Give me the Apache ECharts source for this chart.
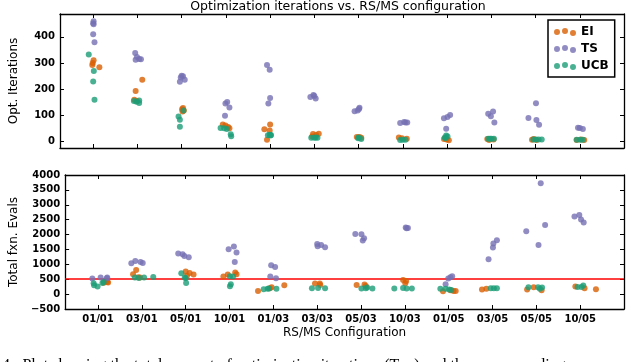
<!DOCTYPE html>
<html><head><meta charset="utf-8">
<script src="https://cdn.jsdelivr.net/npm/echarts@6/dist/echarts.min.js"></script>
<style>html,body{margin:0;padding:0;background:#fff}#c{width:640px;height:362px}</style>
</head><body><div id="c"></div>
<script>
const configs = ['01/01','03/01','05/01','10/01','01/03','03/03','05/03','10/03','01/05','03/05','05/05','10/05'];
const algos = ['EI','TS','UCB'];
const iterTicks = [0,100,200,300,400];
const evalTicks = [-500,0,500,1000,1500,2000,2500,3000,3500,4000];

// Optimization iterations (top panel)
const iterEI = [[310,300,292,283],[235,192,158,154],[127,122,117,113],[63,59,54,49],[63,45,40,5],[28,27,23,17],[15,15,12],[13,10,9],[6,3,8],[4,8,6],[5,8,4],[4,4,6]];
const iterEIJit = [[0.01,-0.01,-0.02,0.14],[0.11,-0.04,-0.07,-0.01],[0.03,0.01,0.05,0.02],[-0.07,-0.01,0.05,0.08],[0.0,-0.13,-0.01,-0.07],[0.10,-0.03,0.04,-0.05],[-0.04,0.02,0.06],[-0.09,-0.02,0.09],[-0.01,0.04,-0.07],[-0.05,-0.09,0.05],[-0.08,-0.04,0.02],[-0.07,0.10,0.03]];
const iterTS = [[460,452,449,410,379],[338,323,315,314,312],[251,249,244,235,228],[150,144,129,97],[292,274,165,144],[177,173,169,163],[128,123,117,114],[73,71,71,69],[100,92,87,47],[113,105,95,71],[145,88,81,62],[51,50,46]];
const iterTSJit = [[0.01,0.0,0.01,0.0,0.03],[-0.05,-0.01,0.04,0.08,-0.04],[0.0,0.03,-0.02,0.07,-0.04],[0.03,-0.01,0.08,-0.02],[-0.07,-0.01,0.0,-0.04],[-0.02,0.0,-0.09,0.03],[0.02,0.01,-0.02,-0.09],[0.03,0.06,0.10,-0.06],[0.07,0.01,-0.07,-0.02],[0.04,-0.07,-0.01,0.07],[0.01,-0.16,0.02,0.08],[-0.04,0.0,0.07]];
const iterUCB = [[332,269,229,158],[156,154,151,146],[117,94,82,55],[50,49,46,26,18],[24,23,22,21],[13,12,12,12],[13,10,8],[5,5,4],[21,17,13,10],[9,9,9,9],[6,6,6,6],[5,5,5]];
const iterUCBJit = [[-0.10,0.015,0.0,0.03],[0.04,-0.08,-0.02,0.04],[0.04,-0.07,-0.04,-0.04],[-0.12,-0.04,0.02,0.11,0.12],[-0.01,0.02,-0.05,0.01],[0.03,-0.07,0.0,0.07],[0.0,-0.01,0.06],[0.0,0.06,-0.06],[-0.02,0.01,-0.05,-0.04],[-0.07,-0.03,0.0,0.06],[-0.05,0.01,0.07,0.14],[-0.07,0.01,0.07]];

// Total function evaluations (bottom panel)
const evalEI = [[444,410,388,380],[813,668,567,556],[757,713,657,620],[724,668,657,590],[299,232,198,108],[355,355,310],[321,310,276],[478,444,366],[130,108,108,97],[176,153],[232,153,130],[254,198,164]];
const evalEIJit = [[0.19,0.21,0.23,0.13],[-0.13,-0.20,-0.08,-0.04],[0.0,0.09,0.18,0.03],[0.13,0.16,-0.04,-0.14],[0.25,-0.04,-0.08,-0.35],[-0.05,0.06,0.07],[0.08,-0.10,0.11],[-0.04,0.03,0.01],[0.04,0.11,0.16,-0.13],[-0.14,-0.24],[-0.06,-0.21,0.12],[-0.11,0.10,0.36]];
const evalTS = [[556,556,530,522],[1115,1082,1048,1037],[1362,1339,1283,1239],[1597,1507,1395,1082],[970,914,590,534],[1686,1652,1608,1574],[2022,2011,1876,1798],[2234,2223,2212],[600,567,522,332],[1809,1697,1563,1171],[3722,2324,2112,1653],[2660,2604,2503,2403]];
const evalTSJit = [[0.06,0.21,0.20,-0.13],[-0.15,-0.03,0.02,-0.24],[-0.17,-0.07,-0.03,0.07],[0.10,-0.02,0.16,0.12],[-0.05,0.04,-0.07,0.06],[0.0,0.09,0.01,0.18],[-0.13,0.01,0.07,0.04],[0.02,0.07,0.04],[0.08,0.04,-0.01,-0.07],[0.10,0.02,0.01,-0.09],[0.10,0.20,-0.23,0.05],[-0.02,-0.13,0.02,0.08]];
const evalUCB = [[410,377,366,300,254],[578,556,556,545],[701,556,534,377],[600,590,332,265],[187,176,176,164],[209,198,198],[220,187,187,200],[209,187,187,187],[176,176,154,142],[198,198,198],[232,232,220,176],[288,243,243]];
const evalUCBJit = [[0.13,0.10,-0.10,-0.09,-0.01],[0.26,-0.16,0.05,-0.07],[-0.10,-0.02,0.0,0.01],[0.01,0.08,0.03,0.01],[-0.10,-0.13,0.07,-0.22],[0.02,-0.12,0.18],[0.14,0.01,0.26,0.11],[-0.04,-0.24,0.04,0.16],[-0.19,-0.07,0.01,0.06],[-0.04,0.03,0.10],[-0.18,0.04,0.13,0.08],[0.07,-0.06,0.03]];
const evalBudget = 500;

const colors = {EI:'#d95f02', TS:'#7570b3', UCB:'#1b9e77'};
const FONT = 'DejaVu Sans';

function pts(vals, jit){
  const out = [];
  vals.forEach((arr,i)=>arr.forEach((v,k)=>out.push([i+jit[i][k], v])));
  return out;
}
const idx = configs.map((c,i)=>i);
const axLine = {show:true, onZero:false, lineStyle:{color:'#000', width:1.3}};
function xAx(grid, pos, labels, extra){
  return Object.assign({type:'value', gridIndex:grid, position:pos, min:-0.75, max:12,
    axisLine:axLine, splitLine:{show:false},
    axisTick:{show:true, inside:true, length:4, customValues:idx, lineStyle:{color:'#000'}},
    axisLabel:{show:labels, customValues:idx, formatter:v=>configs[Math.round(v)]||'', color:'#000', fontFamily:FONT, fontSize:10, fontWeight:'bold', margin:5}
  }, extra||{});
}
function yAx(grid, pos, labels, rng, extra){
  return Object.assign({type:'value', gridIndex:grid, position:pos, min:rng[0], max:rng[1],
    axisLine:axLine, splitLine:{show:false},
    axisTick:{show:true, inside:true, length:4, customValues:rng[2], lineStyle:{color:'#000'}},
    axisLabel:{show:labels, customValues:rng[2], formatter:v=>String(v).replace('-','\u2212'), color:'#000', fontFamily:FONT, fontSize:10, fontWeight:'bold', margin:5}
  }, extra||{});
}
const nameStyle = {color:'#000', fontFamily:FONT, fontSize:12};

const sets = [
  ['EI', iterEI, iterEIJit, evalEI, evalEIJit],
  ['TS', iterTS, iterTSJit, evalTS, evalTSJit],
  ['UCB', iterUCB, iterUCBJit, evalUCB, evalUCBJit]
];
const series = [];
sets.forEach(([name, iv, ij])=>{
  const st = {color:colors[name], opacity:0.8};
  series.push({name, type:'scatter', xAxisIndex:0, yAxisIndex:0, symbolSize:6, itemStyle:st, data:pts(iv, ij)});
});
sets.forEach(([name, iv, ij, ev, ej])=>{
  const st = {color:colors[name], opacity:0.8};
  const s = {name, type:'scatter', xAxisIndex:2, yAxisIndex:2, symbolSize:6, itemStyle:st, data:pts(ev, ej)};
  if (name==='EI') s.markLine = {silent:true, symbol:['none','none'], label:{show:false},
    lineStyle:{color:'#ff0000', width:1.5, type:'solid'}, data:[{yAxis:evalBudget}], z:1};
  series.push(s);
});

const icon = 'path://M0,4a3,3 0 1,0 6,0a3,3 0 1,0 -6,0M8,3a3,3 0 1,0 6,0a3,3 0 1,0 -6,0M16,5a3,3 0 1,0 6,0a3,3 0 1,0 -6,0';

const chart = echarts.init(document.getElementById('c'), null, {renderer:'canvas'});
chart.setOption({
  animation:false,
  backgroundColor:'#fff',
  grid:[
    {left:52, top:14, width:572, height:134},
    {left:52, top:175, width:572, height:134}
  ],
  xAxis:[
    xAx(0,'bottom',false), xAx(0,'top',false),
    xAx(1,'bottom',true,{name:'RS/MS Configuration', nameLocation:'middle', nameGap:18, nameTextStyle:nameStyle}),
    xAx(1,'top',false)
  ],
  yAxis:[
    yAx(0,'left',true,[-27,488,iterTicks],{name:'Opt. Iterations', nameLocation:'middle', nameGap:40, nameTextStyle:nameStyle}),
    yAx(0,'right',false,[-27,488,iterTicks]),
    yAx(1,'left',true,[-500,4000,evalTicks],{name:'Total fxn. Evals', nameLocation:'middle', nameGap:43, nameTextStyle:nameStyle}),
    yAx(1,'right',false,[-500,4000,evalTicks])
  ],
  legend:{
    data:algos, orient:'vertical', left:548, top:20,
    padding:[6,6,5,6], itemGap:5, itemWidth:22, itemHeight:8, icon:icon,
    borderColor:'#000', borderWidth:1.5, backgroundColor:'#fff',
    textStyle:{color:'#000', fontFamily:FONT, fontSize:12, fontWeight:'bold'}
  },
  graphic:[
    {type:'text', x:338, y:0, style:{text:'Optimization iterations vs. RS/MS configuration', textAlign:'center', textVerticalAlign:'top', fill:'#000', font:'12.5px "DejaVu Sans"'}},
    {type:'text', x:2, y:358, style:{text:'4:  Plot showing the total amount of optimization iterations (Top) and the corresponding', textVerticalAlign:'top', fill:'#000', font:'16px "Liberation Serif"'}}
  ],
  series
});
</script></body></html>
